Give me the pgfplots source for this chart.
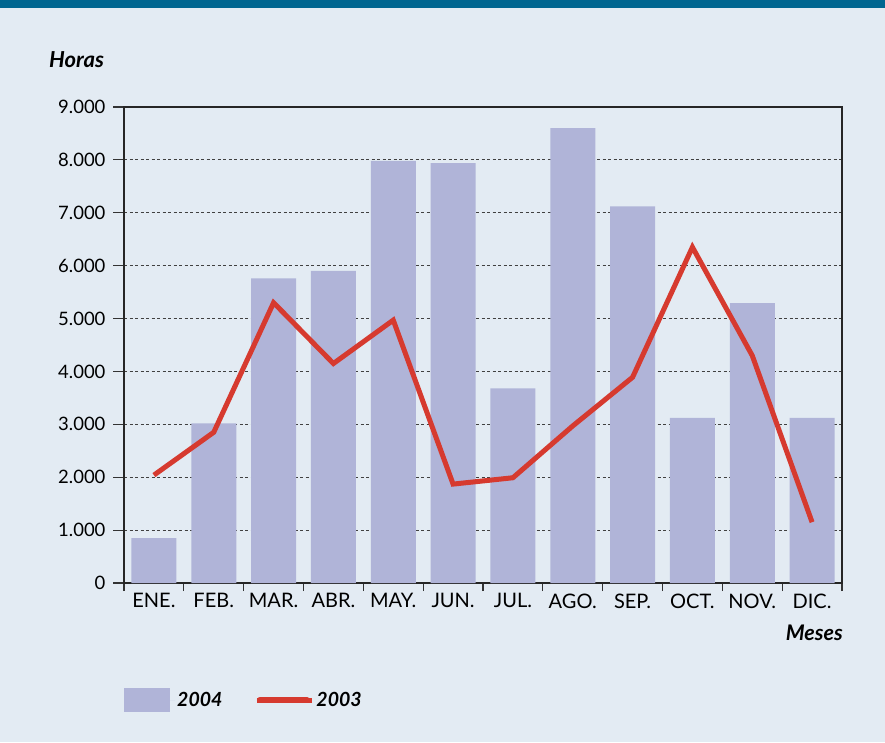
\documentclass[border=0pt]{standalone}
\usepackage{pgfplots}
\pgfplotsset{compat=1.18}
\usepackage{fontspec}
\setmainfont{Lato}
\definecolor{bg}{HTML}{E3EBF3}
\definecolor{topbar}{HTML}{006690}
\definecolor{barc}{HTML}{B0B4D8}
\definecolor{linec}{HTML}{D63A2F}
\begin{document}
\begin{tikzpicture}[x=1pt,y=1pt]
\fill[bg] (0,0) rectangle (885,742);
\fill[topbar] (0,734) rectangle (885,742);
\node[anchor=west, inner sep=0pt, font=\fontsize{22}{24}\selectfont\bfseries\itshape] at (49,682) {Horas};
\node[anchor=east, inner sep=0pt, font=\fontsize{21.5}{24}\selectfont\bfseries\itshape] at (843,109) {Meses};
\begin{axis}[
  at={(124pt,159pt)}, anchor=south west,
  scale only axis, width=718pt, height=476pt,
  xmin=0.5, xmax=12.5, ymin=0, ymax=9000,
  ytick={0,1000,...,9000},
  xtick={1,...,12},
  xticklabels={ENE.,FEB.,MAR.,ABR.,MAY.,JUN.,JUL.,AGO.,SEP.,OCT.,NOV.,DIC.},
  minor xtick={0.5,1.5,...,12.5},
  xtick pos=bottom, ytick pos=left,
  tick align=outside,
  major tick length=11pt, minor tick length=8pt,
  major x tick style={draw=none},
  every tick/.style={black!80, line width=1.2pt},
  ymajorgrids,
  major grid style={dash pattern=on 3pt off 2.5pt, line width=0.9pt, black!75},
  axis line style={line width=1.1pt, black!85},
  /pgf/number format/.cd, 1000 sep={.}, assume math mode=true,
  /pgfplots/.cd,
  yticklabel style={font=\fontsize{18.5}{20}\selectfont, xshift=-4pt},
  xticklabel style={font=\fontsize{20}{22}\selectfont, yshift=4pt},
  legend style={at={(rel axis cs:0,-0.2458)}, anchor=west, draw=none, fill=none, inner sep=0pt,
    font=\fontsize{19.5}{22}\selectfont\bfseries\itshape,
    /tikz/every even column/.append style={column sep=30pt}},
  legend columns=-1,
]
\addplot[ybar, bar width=45pt, fill=barc, draw=none,
  legend image code/.code={\fill[barc] (0pt,-12pt) rectangle (46pt,12pt); \path (0pt,0pt) -- (51pt,0pt);}]
coordinates {(1,850) (2,3020) (3,5760) (4,5900) (5,7980) (6,7940) (7,3680) (8,8600) (9,7120) (10,3120) (11,5290) (12,3120)};
\addlegendentry{2004}
\addplot[linec, line width=5pt, sharp plot, mark=none,
  legend image code/.code={\draw[linec, line width=6pt, line cap=round] (3pt,0pt) -- (50pt,0pt); \path (0pt,0pt) -- (55pt,0pt);}]
coordinates {(1,2040) (2,2850) (3,5300) (4,4150) (5,4970) (6,1870) (7,1990) (8,2970) (9,3890) (10,6350) (11,4300) (12,1150)};
\addlegendentry{2003}
\end{axis}
\end{tikzpicture}
\end{document}
